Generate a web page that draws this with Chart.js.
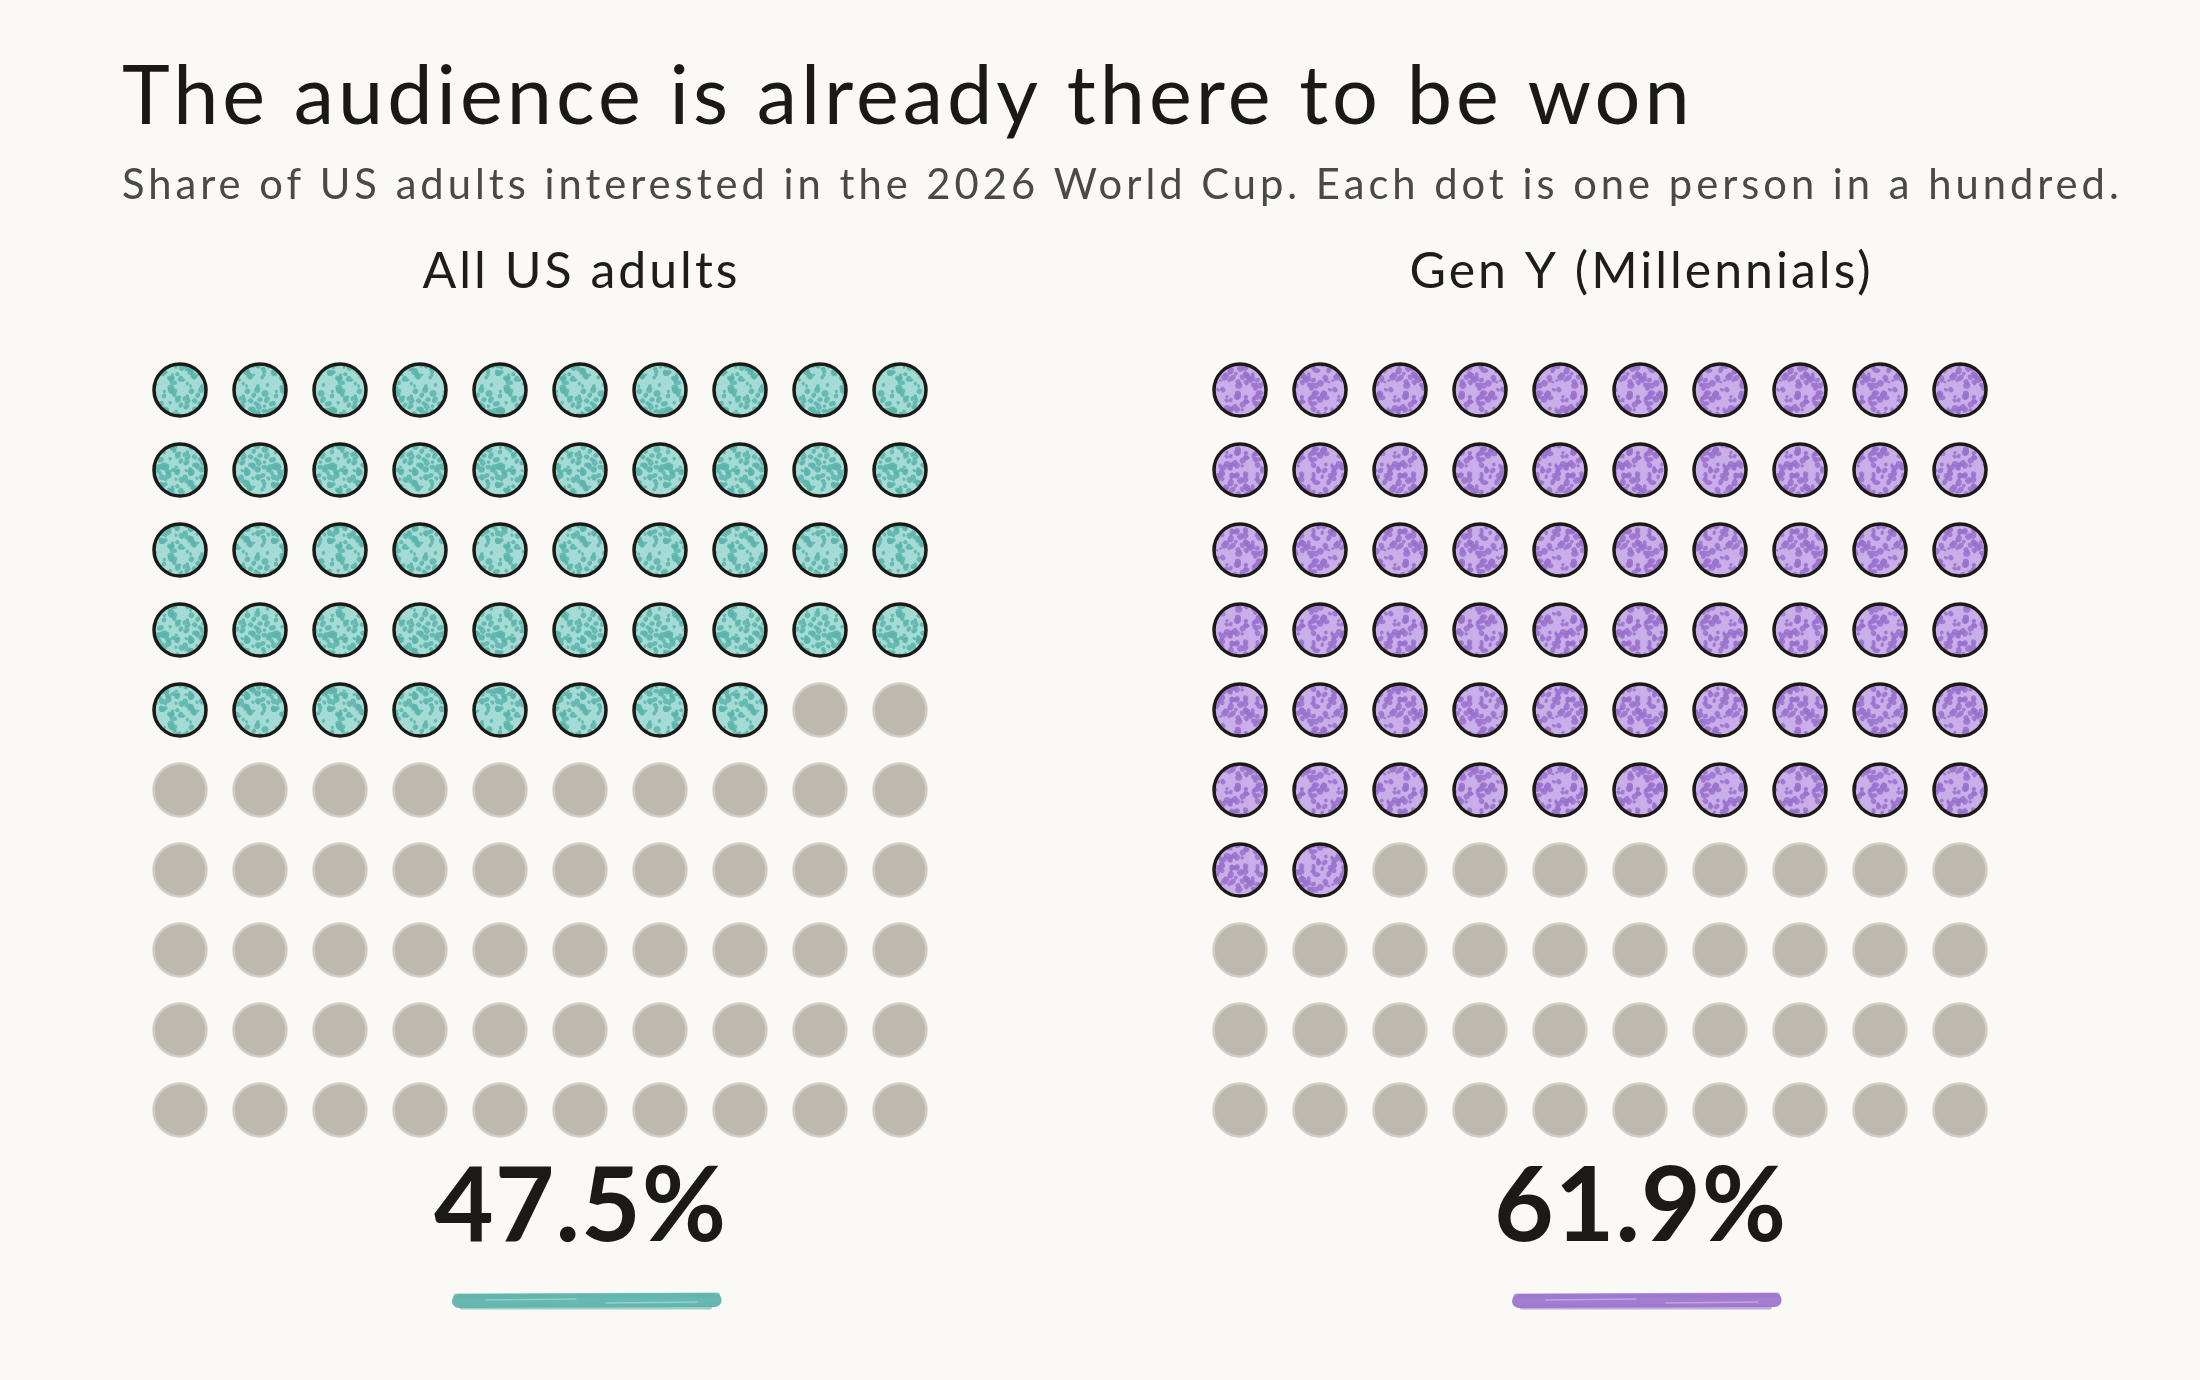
<!DOCTYPE html>
<html><head><meta charset="utf-8">
<script src="https://cdn.jsdelivr.net/npm/chart.js@4.4.1/dist/chart.umd.min.js"></script>
<style>html,body{margin:0;padding:0;background:#faf9f5;}canvas{display:block}</style>
</head><body>
<canvas id="c" width="2200" height="1380"></canvas>
<script>
// ---- data ----
const categories = ["All US adults", "Gen Y (Millennials)"];
const sharePercent = [47.5, 61.9];
const dotsPerPanel = 100;
const dotsPerRow = 10;
const titleText = "The audience is already there to be won";
const subtitleText = "Share of US adults interested in the 2026 World Cup. Each dot is one person in a hundred.";

// ---- style ----
const BG = '#faf9f5';
const accentDark = ['#5cb4ac', '#9a71cd'];
const accentLight = ['#a4dbd5', '#c9aeea'];
const underlineColor = ['#5fb4ad', '#9d77cf'];
const emptyFill = '#bdb9af', emptyEdge = '#d1cdc4';
const inkColor = '#1c1a16';
const FONT = 'Lato';
const panelStep = 13.25;      // horizontal offset (in column units) between the two panels
const textCenter = 5.0;       // text centre relative to panel start, in column units

// layout constants so that chart area is known
const padTop = 49, padLeft = 122, padRight = 60, padBottom = 60;
const titleSize = 81, subSize = 41.7, subPadTop = 14, subPadBottom = 29.76;

function speckle(base, dark, seed) {
  const N = 56;
  const c = document.createElement('canvas'); c.width = c.height = N;
  const g = c.getContext('2d');
  g.fillStyle = base; g.fillRect(0, 0, N, N);
  let s = seed;
  const nxt = () => (s = (s * 16807) % 2147483647) / 2147483647;
  g.fillStyle = dark;
  g.globalAlpha = 0.85;
  for (let i = 0; i < 95; i++) {
    const x = nxt() * N, y = nxt() * N, r = 1.7 + nxt() * 2.0;
    const ry = r * (0.7 + nxt() * 0.3), rot = nxt() * 3;
    for (const dx of [-N, 0, N]) for (const dy of [-N, 0, N]) {
      g.beginPath(); g.ellipse(x + dx, y + dy, r, ry, rot, 0, Math.PI * 2); g.fill();
    }
  }
  return g.createPattern(c, 'repeat');
}

const datasets = [];
categories.forEach((name, p) => {
  const filledCount = Math.round(sharePercent[p]);
  const filled = [], empty = [];
  for (let k = 0; k < dotsPerPanel; k++) {
    const pt = { x: p * panelStep + (k % dotsPerRow), y: Math.floor(k / dotsPerRow) };
    (k < filledCount ? filled : empty).push(pt);
  }
  datasets.push({
    label: name + ' (not interested)', data: empty,
    pointRadius: 26.5, pointHoverRadius: 26.5,
    pointBackgroundColor: emptyFill, pointBorderColor: emptyEdge, pointBorderWidth: 2.5
  });
  datasets.push({
    label: name, data: filled,
    pointRadius: 26, pointHoverRadius: 26,
    pointBackgroundColor: speckle(accentLight[p], accentDark[p], 12345 + p * 777),
    pointBorderColor: inkColor, pointBorderWidth: 3.5
  });
});

const bgPlugin = {
  id: 'bg',
  beforeDraw(chart) {
    const { ctx } = chart;
    ctx.save(); ctx.fillStyle = BG; ctx.fillRect(0, 0, chart.width, chart.height); ctx.restore();
    ctx.letterSpacing = '4px';   // applies to title + subtitle
  },
  beforeDatasetsDraw(chart) { chart.ctx.letterSpacing = '0px'; }
};

const panelText = {
  id: 'panelText',
  afterDatasetsDraw(chart) {
    const { ctx, scales: { x, y } } = chart;
    categories.forEach((name, p) => {
      const cx = x.getPixelForValue(p * panelStep + textCenter);
      ctx.save();
      ctx.fillStyle = '#1f1d1a';
      ctx.textAlign = 'center';
      ctx.textBaseline = 'alphabetic';
      ctx.letterSpacing = '3px';
      ctx.font = `50px ${FONT}`;
      ctx.fillText(name, cx + 1.5, y.getPixelForValue(-1.275));
      ctx.letterSpacing = '1px';
      ctx.fillStyle = inkColor;
      ctx.font = `bold 103px ${FONT}`;
      ctx.fillText(sharePercent[p].toFixed(1) + '%', cx + 0.5, y.getPixelForValue(10.6375));
      ctx.letterSpacing = '0px';
      // brush underline
      const x0 = x.getPixelForValue(p * panelStep + 3.45);
      const x1 = x.getPixelForValue(p * panelStep + 6.72);
      const yc = y.getPixelForValue(11.3875);
      ctx.lineCap = 'round';
      ctx.strokeStyle = underlineColor[p];
      ctx.globalAlpha = 0.95;
      ctx.lineWidth = 14;
      ctx.beginPath(); ctx.moveTo(x0 + 3, yc); ctx.lineTo(x1 - 3, yc - 1); ctx.stroke();
      ctx.globalAlpha = 0.6; ctx.lineWidth = 5;
      ctx.beginPath(); ctx.moveTo(x0, yc - 5); ctx.lineTo(x1, yc - 6); ctx.stroke();
      ctx.beginPath(); ctx.moveTo(x0 + 6, yc + 6); ctx.lineTo(x1 - 8, yc + 6); ctx.stroke();
      ctx.globalAlpha = 0.3; ctx.strokeStyle = '#ffffff'; ctx.lineWidth = 1.5;
      ctx.beginPath(); ctx.moveTo(x0 + 30, yc - 1); ctx.lineTo(x0 + 120, yc - 2); ctx.stroke();
      ctx.beginPath(); ctx.moveTo(x0 + 150, yc + 2); ctx.lineTo(x1 - 20, yc + 1); ctx.stroke();
      ctx.restore();
    });
  }
};

// chart area after title + subtitle blocks and padding
const areaTop = padTop + titleSize * 1.2 + subSize * 1.2 + subPadTop + subPadBottom;
const areaBottom = 1380 - padBottom;
const areaLeft = padLeft, areaRight = 2200 - padRight;
const pxPerUnit = 80, firstDotX = 180, firstDotY = 390;
const yMin = -(firstDotY - areaTop) / pxPerUnit;
const yMax = yMin + (areaBottom - areaTop) / pxPerUnit;
const xMin = -(firstDotX - areaLeft) / pxPerUnit;
const xMax = xMin + (areaRight - areaLeft) / pxPerUnit;

new Chart(document.getElementById('c'), {
  type: 'scatter',
  data: { datasets },
  options: {
    responsive: false,
    devicePixelRatio: 1,
    animation: false,
    events: [],
    clip: false,
    layout: { padding: { top: padTop, left: padLeft, right: padRight, bottom: padBottom } },
    plugins: {
      legend: { display: false },
      tooltip: { enabled: false },
      title: {
        display: true, text: titleText, align: 'start',
        color: '#1b1915', font: { family: FONT, size: titleSize, weight: 'normal' },
        padding: { top: 0, bottom: 0 }
      },
      subtitle: {
        display: true, text: subtitleText, align: 'start',
        color: '#4b4945', font: { family: FONT, size: subSize, weight: 'normal' },
        padding: { top: subPadTop, bottom: subPadBottom }
      }
    },
    scales: {
      x: { type: 'linear', display: false, min: xMin, max: xMax },
      y: { type: 'linear', display: false, reverse: true, min: yMin, max: yMax }
    }
  },
  plugins: [bgPlugin, panelText]
});
</script>
</body></html>
